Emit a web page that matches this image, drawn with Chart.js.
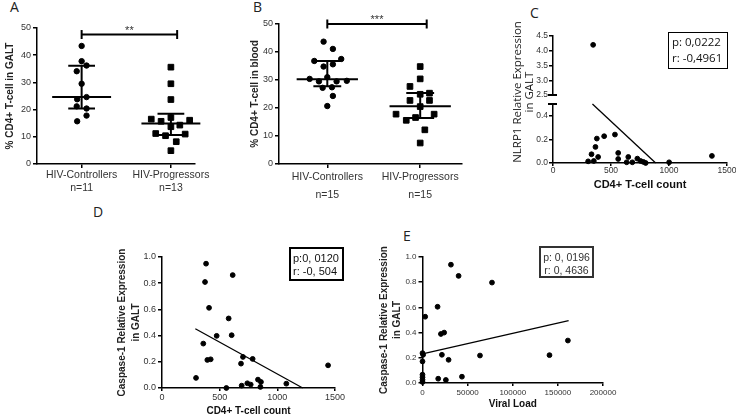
<!DOCTYPE html>
<html>
<head>
<meta charset="utf-8">
<title>CD4+ T-cells, NLRP1 and Caspase-1</title>
<script src="https://cdn.jsdelivr.net/npm/chart.js@4.4.1/dist/chart.umd.min.js"></script>
<style>
  html, body { margin: 0; padding: 0; background: #fff; }
  body { position: relative; width: 736px; height: 416px; overflow: hidden; }
  canvas { position: absolute; }
  .letter { position: absolute; font: 14px/14px "Open Sans", sans-serif; color: #222; }
  .stat { position: absolute; box-sizing: border-box; border: 2px solid #000; color: #111; white-space: nowrap; }
  .ytitle { position: absolute; width: 170px; height: 26px; font: 11.5px/12px "Open Sans", sans-serif;
            text-align: center; transform: rotate(-90deg); color: #222; }
</style>
</head>
<body>
<div class="letter" style="left:10px;top:0px">A</div>
<div class="letter" style="left:253px;top:0px">B</div>
<div class="letter" style="left:530px;top:6px">C</div>
<div class="letter" style="left:93px;top:205px">D</div>
<div class="letter" style="left:403px;top:229px">E</div>

<canvas id="chartA" width="215" height="192" style="left:0px;top:8px"></canvas>
<canvas id="chartB" width="223" height="202" style="left:249px;top:2px"></canvas>
<canvas id="chartCtop" width="226" height="73" style="left:513px;top:28px"></canvas>
<canvas id="chartCbot" width="226" height="97" style="left:513px;top:98px"></canvas>
<canvas id="chartD" width="232" height="180" style="left:115px;top:237px"></canvas>
<canvas id="chartE" width="241" height="173" style="left:378px;top:237px"></canvas>

<div class="ytitle" style="left:439px;top:79px">NLRP1 Relative Expression<br>in GALT</div>

<div class="stat" style="left:668px;top:32px;width:60px;height:37px;border-width:1.5px;
     font:11.5px/16px 'Open Sans',sans-serif;padding:1px 0 0 3px">p: 0,0222<br>r: -0,4961</div>
<div class="stat" style="left:289px;top:247px;width:55px;height:34px;
     font:11px/13px 'Liberation Sans',Arial,sans-serif;padding:3px 0 0 2px">p:0, 0120<br>r: -0, 504</div>
<div class="stat" style="left:539px;top:246px;width:55px;height:32px;border-color:#333;color:#333;
     font:10.5px/12.5px 'Liberation Sans',Arial,sans-serif;padding:3px 0 0 0;text-align:center">p: 0, 0196<br>r: 0, 4636</div>

<script>
// ---- A + B: % CD4+ T-cells, controllers vs progressors
const groups = ['HIV-Controllers', 'HIV-Progressors'];
const nGalt = ['n=11', 'n=13'];
const nBlood = ['n=15', 'n=15'];

const galtCtrl    = [43.4, 37.8, 36.2, 34.1, 29.5, 23.8, 24.6, 21.2, 20.4, 17.8, 15.7];
const galtCtrlJit = [0, 0, 0.055, -0.055, 0, -0.05, 0.055, -0.055, 0.055, 0.055, -0.05];
const galtProg    = [35.6, 29.5, 23.7, 16.5, 15.7, 17.1, 16.1, 14.3, 13.7, 11.2, 10.4, 11.0, 8.2, 4.9];
const galtProgJit = [0, 0, 0, -0.22, -0.11, 0, 0.21, 0.10, 0, -0.17, -0.06, 0.16, 0.06, 0];
// median, q1, q3 as drawn on the plot
const galtCtrlStats = [24.6, 20.4, 36.1];
const galtProgStats = [14.9, 10.7, 18.5];
const galtBracket = 47.6;

const bloodCtrl    = [43.7, 41.1, 36.8, 37.5, 34.8, 35.6, 30.4, 31.0, 29.5, 29.5, 29.7, 27.2, 27.4, 24.3, 20.7];
const bloodCtrlJit = [-0.04, 0.06, -0.14, 0.15, -0.04, 0.06, -0.19, 0, -0.09, 0.10, 0.21, -0.05, 0.05, 0.06, 0];
const bloodProg    = [34.8, 30.4, 27.7, 22.7, 24.9, 25.3, 22.7, 20.5, 17.8, 17.8, 15.6, 16.6, 12.2, 7.5];
const bloodProgJit = [0, 0, -0.11, -0.11, 0, 0.10, 0.10, 0, -0.26, 0.15, -0.15, -0.05, 0.05, 0];
const bloodCtrlStats = [30.3, 27.8, 36.8];
const bloodProgStats = [20.6, 16.4, 25.4];
const bloodBracket = 50;

// ---- C: NLRP1 vs CD4+ T-cell count
const nlrpCd4  = [346, 303, 332, 352, 366, 378, 389, 441, 534, 562, 562, 635, 649, 684, 727, 755, 779, 799, 1001, 1370];
const nlrpExpr = [4.2, 0.014, 0.074, 0.017, 0.136, 0.207, 0.051, 0.227, 0.241, 0.085, 0.034, 0.006, 0.051, 0.006, 0.037, 0.017, 0.009, 0, 0.006, 0.06];
const nlrpFitX = [340, 885];
const nlrpFitY = [0.5, 0];

// ---- D: Caspase-1 vs CD4+ T-cell count
const caspCd4     = [295, 382, 373, 408, 358, 393, 422, 474, 558, 578, 613, 604, 685, 702, 691, 740, 769, 786, 832, 858, 853, 1078, 1440];
const caspCd4Expr = [0.077, 0.949, 0.809, 0.612, 0.339, 0.214, 0.219, 0.398, 0.0, 0.531, 0.862, 0.403, 0.186, 0.237, 0.018, 0.036, 0.026, 0.222, 0.064, 0.046, 0.008, 0.033, 0.173];
const caspCd4FitX = [289, 1220];
const caspCd4FitY = [0.452, 0];

// ---- E: Caspase-1 vs viral load
const viralLoad  = [31500, 40000, 77000, 16700, 3000, 20400, 24000, 0, 700, 0, 21500, 28900, 63700, 140700, 161100, 0, 0, 0, 0, 17400, 25900, 43700];
const caspVlExpr = [0.939, 0.850, 0.797, 0.605, 0.526, 0.389, 0.400, 0.237, 0.224, 0.171, 0.224, 0.184, 0.218, 0.221, 0.337, 0.066, 0.045, 0.026, 0.008, 0.034, 0.024, 0.050];
const caspVlFitX = [0, 161900];
const caspVlFitY = [0.232, 0.495];


Chart.defaults.font.family = '"Liberation Sans", Arial, sans-serif';
Chart.defaults.color = '#333';
Chart.defaults.animation = false;
Chart.defaults.events = [];
Chart.defaults.plugins.legend.display = false;
Chart.defaults.plugins.tooltip.enabled = false;

// fixed axis boxes so every chart area lands where the figure has it
const fixY = w => s => { s.width = w; s.paddingTop = 0; s.paddingBottom = 0; };
const fixX = h => s => { s.height = h; s.paddingLeft = 0; s.paddingRight = 0; };
const border = { color: '#000', width: 1.5 };
const tickGrid = len => ({ drawOnChartArea: false, tickLength: len, color: '#000', lineWidth: 1.5 });
const black = { backgroundColor: '#000', borderColor: '#000', clip: false };

const jitter = (vals, offs, c) => vals.map((v, i) => ({ x: c + offs[i], y: v }));
const pairs = (xs, ys) => xs.map((x, i) => ({ x: x, y: ys[i] }));
// median line + interquartile whisker around category c
const medianIqr = (c, [med, q1, q3]) => [
  { x: c - 0.33, y: med }, { x: c + 0.33, y: med }, { x: c, y: null },
  { x: c - 0.15, y: q3 }, { x: c + 0.15, y: q3 }, { x: c, y: null },
  { x: c - 0.15, y: q1 }, { x: c + 0.15, y: q1 }, { x: c, y: null },
  { x: c, y: q1 }, { x: c, y: q3 }
];

// significance stars + broken-axis caps
const extras = {
  id: 'extras',
  afterDatasetsDraw(chart, args, opts) {
    const ctx = chart.ctx, xs = chart.scales.x, ys = chart.scales.y;
    ctx.save();
    if (opts.stars) {
      ctx.fillStyle = '#333';
      ctx.font = '11px "Liberation Sans", Arial';
      ctx.textAlign = 'center';
      ctx.fillText(opts.stars.text, xs.getPixelForValue((opts.stars.from + opts.stars.to) / 2),
                   ys.getPixelForValue(opts.stars.y) - 1);
    }
    if (opts.cap) {
      const py = ys.getPixelForValue(opts.cap === 'min' ? ys.min : ys.max);
      ctx.strokeStyle = '#000';
      ctx.lineWidth = 2;
      ctx.beginPath();
      ctx.moveTo(ys.right - 5, py);
      ctx.lineTo(ys.right + 4, py);
      ctx.stroke();
    }
    ctx.restore();
  }
};
Chart.register(extras);

function groupChart(id, d) {
  return new Chart(document.getElementById(id), {
    type: 'scatter',
    data: { datasets: [
      { ...black, data: jitter(d.ctrl, d.ctrlJit, 1), pointStyle: 'circle', pointRadius: 2.7 },
      { ...black, data: jitter(d.prog, d.progJit, 2), pointStyle: 'rect', pointRadius: 4 },
      { ...black, data: medianIqr(1, d.ctrlStats), showLine: true, pointRadius: 0, borderWidth: 2 },
      { ...black, data: medianIqr(2, d.progStats), showLine: true, pointRadius: 0, borderWidth: 2 },
      { ...black, data: [{ x: 1, y: d.bracket }, { x: 2.07, y: d.bracket }], showLine: true, borderWidth: 2,
        pointStyle: 'line', pointRadius: 4.5, pointRotation: 90, pointBorderWidth: 2 }
    ]},
    options: {
      responsive: false,
      layout: { padding: { top: d.padTop, right: d.padRight, left: 0, bottom: 0 } },
      plugins: { extras: { stars: { text: d.stars, from: 1, to: 2.07, y: d.bracket } } },
      scales: {
        x: {
          min: d.xMin, max: d.xMax,
          afterBuildTicks: s => { s.ticks = [{ value: 1 }, { value: 2 }]; },
          afterFit: fixX(d.xH),
          ticks: { callback: v => [groups[v - 1], d.n[v - 1]], maxRotation: 0, padding: 0,
                   font: { size: 10.5, lineHeight: d.nGap }, color: '#333' },
          grid: tickGrid(4), border: border
        },
        y: {
          min: 0, max: 50,
          afterFit: fixY(d.yW),
          ticks: { stepSize: 10, padding: 2, font: { size: 9 }, color: '#333' },
          title: { display: true, text: d.title, color: '#222', padding: { top: d.titlePad, bottom: 0 },
                   font: { size: 10, weight: 'bold', lineHeight: 1.2 } },
          grid: tickGrid(4), border: border
        }
      }
    }
  });
}

groupChart('chartA', {
  ctrl: galtCtrl, ctrlJit: galtCtrlJit, prog: galtProg, progJit: galtProgJit,
  ctrlStats: galtCtrlStats, progStats: galtProgStats, bracket: galtBracket, stars: '**',
  n: nGalt, title: '% CD4+ T-cell in GALT', xMin: 0.5, xMax: 2.27,
  padTop: 20, padRight: 20, xH: 36, yW: 37, titlePad: 4, nGap: 1.3
});
groupChart('chartB', {
  ctrl: bloodCtrl, ctrlJit: bloodCtrlJit, prog: bloodProg, progJit: bloodProgJit,
  ctrlStats: bloodCtrlStats, progStats: bloodProgStats, bracket: bloodBracket, stars: '***',
  n: nBlood, title: '% CD4+ T-cell in blood', xMin: 0.48, xMax: 2.45,
  padTop: 22, padRight: 10, xH: 40, yW: 30, titlePad: 0, nGap: 1.7
});

function corrChart(id, d) {
  return new Chart(document.getElementById(id), {
    type: 'scatter',
    data: { datasets: [
      { ...black, data: pairs(d.xs, d.ys), pointRadius: d.r, pointBorderWidth: 1 },
      { ...black, data: pairs(d.fitX, d.fitY), showLine: true, pointRadius: 0, borderWidth: 1.3 }
    ]},
    options: {
      responsive: false,
      layout: { padding: d.pad },
      plugins: { extras: { cap: d.cap } },
      scales: {
        x: {
          display: d.xTitle !== undefined,
          min: 0, max: d.xMax,
          afterFit: fixX(d.xH),
          ticks: { stepSize: d.xStep, maxRotation: 0, padding: d.xTickPad, font: { size: d.tickSize }, color: '#333',
                   callback: v => String(v) },
          title: { display: !!d.xTitle, text: d.xTitle, color: '#111', padding: { top: 0, bottom: d.xTitlePad },
                   font: { size: d.xTitleSize, weight: 'bold' } },
          grid: tickGrid(3), border: border
        },
        y: {
          min: d.yMin, max: d.yMax,
          afterFit: fixY(d.yW),
          afterBuildTicks: d.yTicks ? s => { s.ticks = d.yTicks.map(v => ({ value: v })); } : undefined,
          ticks: { stepSize: d.yStep, padding: d.yTickPad, font: { size: d.tickSize }, color: '#333',
                   callback: v => (v === d.yMax && d.cap === 'max') ? '' : v.toFixed(1) },
          title: { display: !!d.yTitle, text: d.yTitle, color: '#222', padding: { top: 0, bottom: 0 },
                   font: { size: 10, weight: 'bold', lineHeight: d.yTitleLH } },
          grid: tickGrid(4), border: border
        }
      }
    }
  });
}

// C: broken y axis drawn as two stacked charts sharing the same x range
corrChart('chartCtop', {
  xs: nlrpCd4, ys: nlrpExpr, fitX: nlrpFitX, fitY: nlrpFitY, r: 2.4,
  xMax: 1500, xStep: 500, yMin: 2.5, yMax: 4.5, yStep: 0.5, tickSize: 8.5, yTickPad: 1,
  pad: { top: 8, right: 12, left: 0, bottom: 6 }, yW: 40, xH: 0, cap: 'min'
});
corrChart('chartCbot', {
  xs: nlrpCd4, ys: nlrpExpr, fitX: nlrpFitX, fitY: nlrpFitY, r: 2.4,
  xMax: 1500, xStep: 500, yMin: 0, yMax: 0.5, yTicks: [0, 0.2, 0.4, 0.5], tickSize: 8.5, yTickPad: 1,
  xTitle: 'CD4+ T-cell count', xTitleSize: 11, xTitlePad: 3.5, xTickPad: 0,
  pad: { top: 6, right: 12, left: 0, bottom: 0 }, yW: 40, xH: 32, cap: 'max'
});
corrChart('chartD', {
  xs: caspCd4, ys: caspCd4Expr, fitX: caspCd4FitX, fitY: caspCd4FitY, r: 2.4,
  xMax: 1500, xStep: 500, yMin: 0, yMax: 1, yStep: 0.2, tickSize: 9, yTickPad: 2,
  xTitle: 'CD4+ T-cell count', xTitleSize: 10, xTitlePad: 0, xTickPad: 1.5,
  yTitle: ['Caspase-1 Relative Expression', 'in GALT'], yTitleLH: '14px',
  pad: { top: 20, right: 12, left: 0, bottom: 0 }, yW: 47, xH: 29
});
corrChart('chartE', {
  xs: viralLoad, ys: caspVlExpr, fitX: caspVlFitX, fitY: caspVlFitY, r: 2.4,
  xMax: 200000, xStep: 50000, yMin: 0, yMax: 1, yStep: 0.2, tickSize: 8, yTickPad: 2,
  xTitle: 'Viral Load', xTitleSize: 10, xTitlePad: 0, xTickPad: 1.5,
  yTitle: ['Caspase-1 Relative Expression', 'in GALT'], yTitleLH: '13px',
  pad: { top: 20, right: 16, left: 0, bottom: 0 }, yW: 44.5, xH: 27
});
</script>
</body>
</html>
